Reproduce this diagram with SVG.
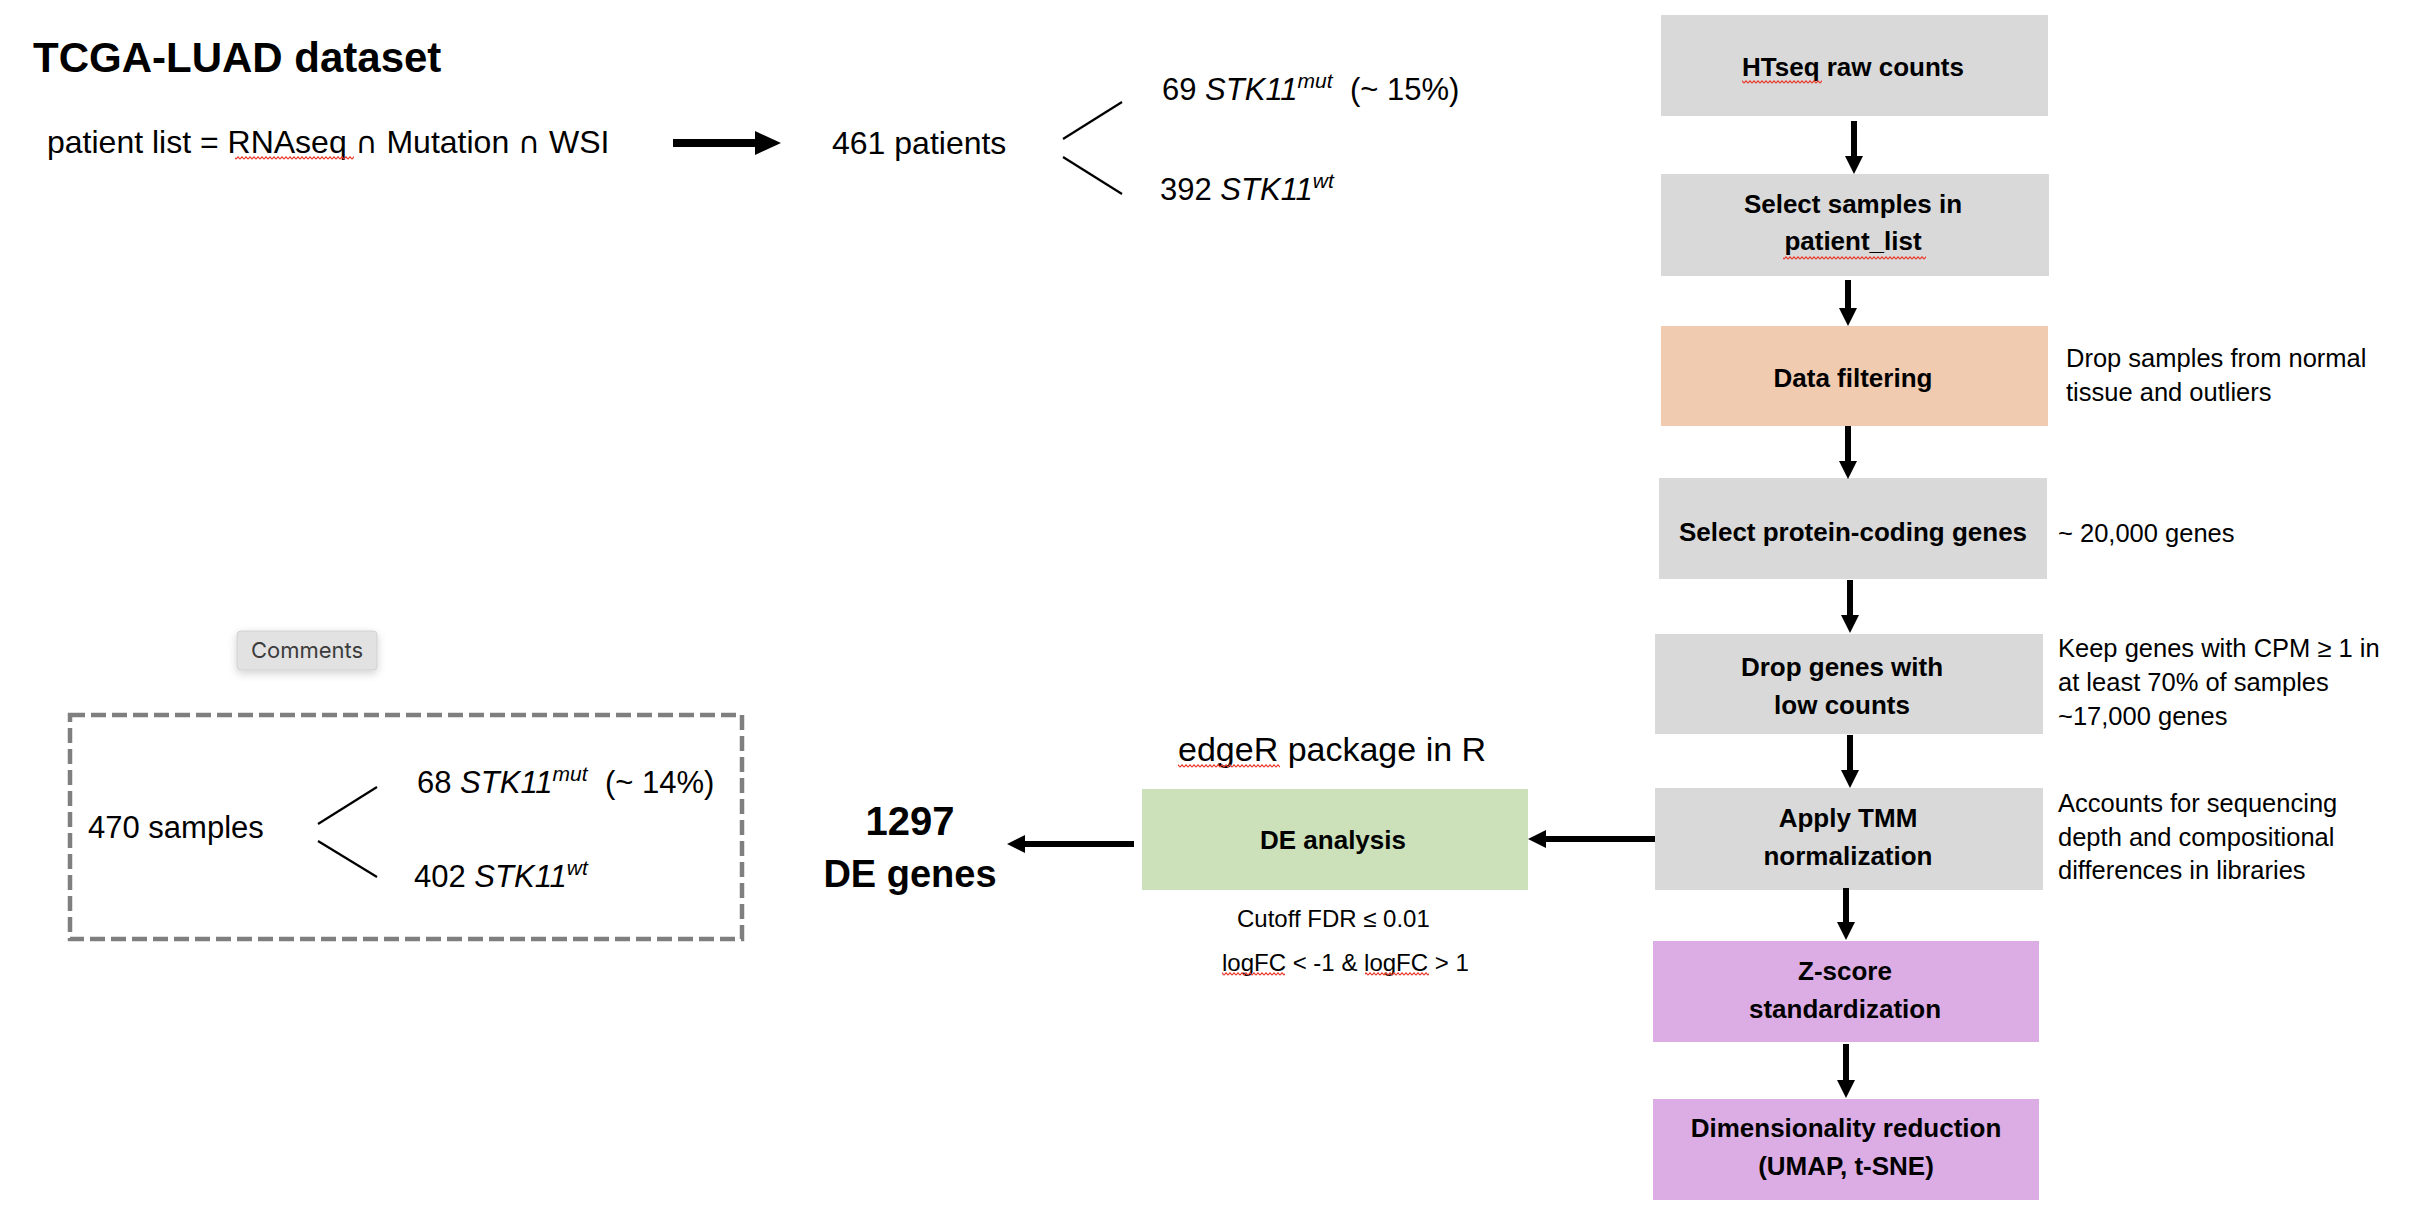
<svg xmlns="http://www.w3.org/2000/svg" width="2420" height="1226" viewBox="0 0 2420 1226">
<defs>
<style>
text{font-family:"Liberation Sans",Arial,"DejaVu Sans",sans-serif;fill:#000}
.title{font-size:42px;font-weight:bold}
.body{font-size:32px}
.br{font-size:31px}
.box{font-size:26px;font-weight:bold;text-anchor:middle}
.side{font-size:25.5px}
.small{font-size:24px}
.big{font-weight:bold;text-anchor:middle}
.it{font-style:italic}
.sup{font-size:21px;font-style:italic}
.cap{font-family:"DejaVu Sans",sans-serif;font-size:30px}
.gray{fill:#D9D9D9}
.peach{fill:#F1CBB0}
.plum{fill:#DCADE5}
.green{fill:#CCE0B9}
.conn{stroke:#000;stroke-width:6;fill:none}
.thin{stroke:#000;stroke-width:2.2;fill:none}
.squig{fill:url(#squig)}
</style>
<marker id="ah" markerUnits="userSpaceOnUse" markerWidth="18" markerHeight="18" refX="1" refY="9" orient="auto"><path d="M0,0 L18,9 L0,18 Z" fill="#000"/></marker>
<marker id="ahBig" markerUnits="userSpaceOnUse" markerWidth="26" markerHeight="24" refX="1" refY="12" orient="auto"><path d="M0,0 L26,12 L0,24 Z" fill="#000"/></marker>
<pattern id="squig" patternUnits="userSpaceOnUse" width="4" height="4"><path d="M0,3.2 L2,0.8 L4,3.2" fill="none" stroke="#E8392B" stroke-width="1.1"/></pattern>
<filter id="shadow" x="-20%" y="-30%" width="140%" height="190%"><feDropShadow dx="0" dy="3" stdDeviation="4" flood-color="#000" flood-opacity="0.18"/></filter>
</defs>
<rect width="2420" height="1226" fill="#fff"/>

<g id="title"><text class="title" x="33" y="72">TCGA-LUAD dataset</text></g>

<g id="patient-list">
<text class="body" x="47" y="153">patient list = RNAseq <tspan class="cap">∩</tspan> Mutation <tspan class="cap">∩</tspan> WSI</text>
<rect class="squig" x="235" y="156" width="119" height="4"/>
</g>

<g id="patients-461"><text class="body" x="832" y="154">461 patients</text></g>
<g id="stk11-mut-69"><text class="br" x="1162" y="100">69 <tspan class="it">STK11</tspan><tspan class="sup" dy="-12">mut</tspan><tspan x="1350" dy="12">(~ 15%)</tspan></text></g>
<g id="stk11-wt-392"><text class="br" x="1160" y="200">392 <tspan class="it">STK11</tspan><tspan class="sup" dy="-12">wt</tspan></text></g>

<g id="comments">
<rect x="237" y="631" width="140" height="39" rx="4" fill="#E2E2E2" stroke="#D0D0D0" stroke-width="1" filter="url(#shadow)"/>
<text x="307" y="658" text-anchor="middle" style="font-family:Inter,'Liberation Sans',sans-serif;font-size:22px;fill:#3C3C3C">Comments</text>
</g>

<g id="samples-box">
<rect x="70" y="715" width="672" height="224" fill="none" stroke="#7F7F7F" stroke-width="4.5" stroke-dasharray="15 6"/>
<text class="br" x="88" y="838">470 samples</text>
<text class="br" x="417" y="793">68 <tspan class="it">STK11</tspan><tspan class="sup" dy="-12">mut</tspan><tspan x="605" dy="12">(~ 14%)</tspan></text>
<text class="br" x="414" y="887">402 <tspan class="it">STK11</tspan><tspan class="sup" dy="-12">wt</tspan></text>
</g>

<g id="de-genes">
<text class="big" x="910" y="835" font-size="40">1297</text>
<text class="big" x="910" y="887" font-size="38">DE genes</text>
</g>

<g id="edger-label">
<text x="1178" y="761" font-size="34">edgeR package in R</text>
<rect class="squig" x="1178" y="764" width="102" height="4"/>
</g>

<g id="de-analysis">
<rect class="green" x="1142" y="789" width="386" height="101"/>
<text class="box" x="1333" y="849" font-size="29">DE analysis</text>
</g>

<g id="de-cutoffs">
<text class="small" x="1237" y="927">Cutoff FDR ≤ 0.01</text>
<text class="small" x="1222" y="971">logFC &lt; -1 &amp; logFC &gt; 1</text>
<rect class="squig" x="1222" y="972" width="63" height="4"/>
<rect class="squig" x="1365" y="972" width="64" height="4"/>
</g>

<g id="htseq">
<rect class="gray" x="1661" y="15" width="387" height="101"/>
<text class="box" x="1853" y="76">HTseq raw counts</text>
<rect class="squig" x="1742" y="80" width="80" height="4"/>
</g>

<g id="select-samples">
<rect class="gray" x="1661" y="174" width="388" height="102"/>
<text class="box" x="1853" y="213">Select samples in</text>
<text class="box" x="1853" y="250">patient_list</text>
<rect class="squig" x="1783" y="256" width="143" height="4"/>
</g>

<g id="data-filtering">
<rect class="peach" x="1661" y="326" width="387" height="100"/>
<text class="box" x="1853" y="387">Data filtering</text>
<text class="side" x="2066" y="367">Drop samples from normal</text>
<text class="side" x="2066" y="401">tissue and outliers</text>
</g>

<g id="protein-coding">
<rect class="gray" x="1659" y="478" width="388" height="101"/>
<text class="box" x="1853" y="541">Select protein-coding genes</text>
<text class="side" x="2058" y="542">~ 20,000 genes</text>
</g>

<g id="drop-low">
<rect class="gray" x="1655" y="634" width="388" height="100"/>
<text class="box" x="1842" y="676">Drop genes with</text>
<text class="box" x="1842" y="714">low counts</text>
<text class="side" x="2058" y="657">Keep genes with CPM ≥ 1 in</text>
<text class="side" x="2058" y="691">at least 70% of samples</text>
<text class="side" x="2058" y="725">~17,000 genes</text>
</g>

<g id="tmm">
<rect class="gray" x="1655" y="788" width="388" height="102"/>
<text class="box" x="1848" y="827">Apply TMM</text>
<text class="box" x="1848" y="865">normalization</text>
<text class="side" x="2058" y="812">Accounts for sequencing</text>
<text class="side" x="2058" y="846">depth and compositional</text>
<text class="side" x="2058" y="879">differences in libraries</text>
</g>

<g id="zscore">
<rect class="plum" x="1653" y="941" width="386" height="101"/>
<text class="box" x="1845" y="980">Z-score</text>
<text class="box" x="1845" y="1018">standardization</text>
</g>

<g id="dimred">
<rect class="plum" x="1653" y="1099" width="386" height="101"/>
<text class="box" x="1846" y="1137">Dimensionality reduction</text>
<text class="box" x="1846" y="1175">(UMAP, t-SNE)</text>
</g>

<g id="connectors">
<line x1="673" y1="143" x2="756" y2="143" stroke="#000" stroke-width="8" marker-end="url(#ahBig)"/>
<line class="thin" x1="1063" y1="139" x2="1122" y2="102"/>
<line class="thin" x1="1063" y1="157" x2="1122" y2="194"/>
<line class="thin" x1="318" y1="824" x2="377" y2="787"/>
<line class="thin" x1="318" y1="841" x2="377" y2="877"/>
<line class="conn" x1="1854" y1="121" x2="1854" y2="157" marker-end="url(#ah)"/>
<line class="conn" x1="1848" y1="280" x2="1848" y2="309" marker-end="url(#ah)"/>
<line class="conn" x1="1848" y1="426" x2="1848" y2="462" marker-end="url(#ah)"/>
<line class="conn" x1="1850" y1="580" x2="1850" y2="616" marker-end="url(#ah)"/>
<line class="conn" x1="1850" y1="735" x2="1850" y2="771" marker-end="url(#ah)"/>
<line class="conn" x1="1846" y1="888" x2="1846" y2="923" marker-end="url(#ah)"/>
<line class="conn" x1="1846" y1="1044" x2="1846" y2="1081" marker-end="url(#ah)"/>
<line class="conn" x1="1655" y1="839" x2="1545" y2="839" marker-end="url(#ah)"/>
<line class="conn" x1="1134" y1="844" x2="1024" y2="844" marker-end="url(#ah)"/>
</g>
</svg>
